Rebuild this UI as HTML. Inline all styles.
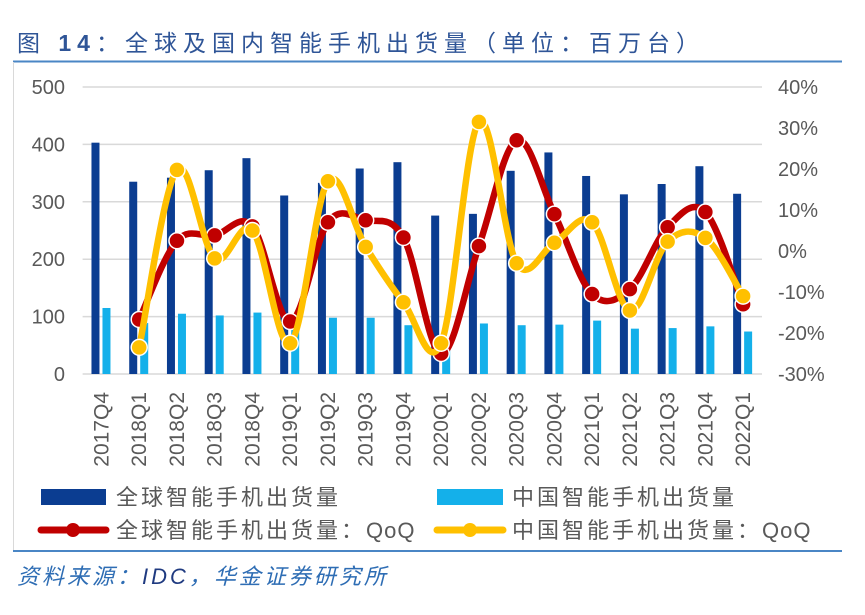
<!DOCTYPE html>
<html><head><meta charset="utf-8">
<style>
html,body{margin:0;padding:0;background:#fff;width:865px;height:615px;overflow:hidden;font-family:"Liberation Sans","Noto Sans CJK SC",sans-serif}
</style></head>
<body>
<svg id="c" width="865" height="615" xmlns="http://www.w3.org/2000/svg">
<text x="17" y="51" font-size="23" fill="#2f5597" letter-spacing="6" font-family="Liberation Sans,Noto Sans CJK SC,sans-serif">图 <tspan font-weight="bold">14</tspan>：全球及国内智能手机出货量（单位：百万台）</text>
<line x1="13" y1="61.5" x2="842" y2="61.5" stroke="#4a86c5" stroke-width="2"/>
<line x1="13.5" y1="62" x2="13.5" y2="551" stroke="#d9d9d9" stroke-width="1"/>
<line x1="13" y1="551" x2="842" y2="551" stroke="#4a86c5" stroke-width="2"/>
<text x="17" y="584" font-size="22" fill="#2e6db4" font-style="italic" letter-spacing="3" font-family="Liberation Sans,Noto Sans CJK SC,sans-serif">资料来源：<tspan fill="#1f3a80">IDC</tspan>，华金证券研究所</text>
<g id="grid"></g><g id="bars"></g><g id="lines"></g><g id="axes"></g>
<g font-size="22" letter-spacing="3">
<rect x="41" y="489" width="65" height="16" fill="#0b3d91"/>
<text x="116" y="505" fill="#595959">全球智能手机出货量</text>
<rect x="437" y="489" width="66" height="16" fill="#14b0ea"/>
<text x="512" y="505" fill="#595959">中国智能手机出货量</text>
<line x1="41" y1="530" x2="106" y2="530" stroke="#c00000" stroke-width="7" stroke-linecap="round"/>
<circle cx="73" cy="530" r="7" fill="#c00000"/>
<text x="116" y="538" fill="#595959">全球智能手机出货量：<tspan letter-spacing="1">QoQ</tspan></text>
<line x1="437" y1="530" x2="503" y2="530" stroke="#ffc000" stroke-width="7" stroke-linecap="round"/>
<circle cx="470" cy="530" r="7" fill="#ffc000"/>
<text x="512" y="538" fill="#595959">中国智能手机出货量：<tspan letter-spacing="1">QoQ</tspan></text>
</g>
</svg>
<script>
const categories=["2017Q4","2018Q1","2018Q2","2018Q3","2018Q4","2019Q1","2019Q2","2019Q3","2019Q4","2020Q1","2020Q2","2020Q3","2020Q4","2021Q1","2021Q2","2021Q3","2021Q4","2022Q1"];
const globalShip=[403,335,342,355,376,311,333,358,369,276,279,354,386,345,313,331,362,314];
const chinaShip=[115,89,105,102,107,83,98,98,85,49,88,85,86,93,79,80,83,74];
const globalQoQ=[null,-16.7,2.5,3.8,6.0,-17.2,7.0,7.5,3.3,-25.0,1.2,27.0,9.0,-10.5,-9.3,5.8,9.5,-13.0];
const chinaQoQ=[null,-23.5,19.8,-1.8,5.0,-22.5,17.0,1.0,-12.5,-22.5,31.5,-3.0,2.0,7.0,-14.5,2.3,3.2,-11.0];
const leftTicks=[0,100,200,300,400,500];
const rightTicks=[-30,-20,-10,0,10,20,30,40];

const NS="http://www.w3.org/2000/svg";
const X0=82.6,X1=762,Y0=374,Y1=87;
const step=(X1-X0)/categories.length;
const xc=i=>X0+step*(i+0.5);
const yL=v=>Y0-(v/500)*(Y0-Y1);
const yR=v=>Y0-((v+30)/70)*(Y0-Y1);
function mk(tag,attrs,parent){const e=document.createElementNS(NS,tag);for(const k in attrs)e.setAttribute(k,attrs[k]);document.getElementById(parent).appendChild(e);return e;}

leftTicks.forEach(t=>{
  const g=mk('line',{x1:X0,x2:X1,y1:yL(t),y2:yL(t),stroke:'#d9d9d9','stroke-width':1.5},'grid');
  
  
  const tx=mk('text',{x:65,y:yL(t)+7,'text-anchor':'end','font-size':20,fill:'#595959'},'axes');
  tx.textContent=t;
  
  
});
rightTicks.forEach(t=>{
  const tx=mk('text',{x:778,y:yR(t)+7,'font-size':20,fill:'#595959'},'axes');
  tx.textContent=t+'%';
  
  
});
categories.forEach((c,i)=>{
  const tx=mk('text',{transform:`translate(${xc(i)+7},392) rotate(-90)`,'text-anchor':'end','font-size':21,fill:'#595959'},'axes');
  tx.textContent=c;
  
  
  const b=mk('rect',{x:xc(i)-10,y:yL(globalShip[i]),width:8,height:Y0-yL(globalShip[i]),fill:'#0b3d91'},'bars');
  
  
  const b2=mk('rect',{x:xc(i)+1,y:yL(chinaShip[i]),width:8,height:Y0-yL(chinaShip[i]),fill:'#14b0ea'},'bars');
  
  
});
function smooth(pts){
  let d=`M${pts[0][0]},${pts[0][1]}`;
  for(let i=0;i<pts.length-1;i++){
    const p0=pts[i-1]||pts[i],p1=pts[i],p2=pts[i+1],p3=pts[i+2]||p2;
    const t=0.17;
    d+=` C${p1[0]+(p2[0]-p0[0])*t},${p1[1]+(p2[1]-p0[1])*t} ${p2[0]-(p3[0]-p1[0])*t},${p2[1]-(p3[1]-p1[1])*t} ${p2[0]},${p2[1]}`;
  }
  return d;
}
function series(vals,color,name){
  const pts=[];vals.forEach((v,i)=>{if(v!==null)pts.push([xc(i),yR(v)]);});
  const p=mk('path',{d:smooth(pts),fill:'none',stroke:color,'stroke-width':6.5,'stroke-linejoin':'round'},'lines');
  
  
  pts.forEach(q=>{
    const c=mk('circle',{cx:q[0],cy:q[1],r:8,fill:color,stroke:'#fff','stroke-width':1.5},'lines');
    
    
  });
}
series(globalQoQ,'#c00000','global-qoq');
series(chinaQoQ,'#ffc000','china-qoq');
</script>
</body></html>
